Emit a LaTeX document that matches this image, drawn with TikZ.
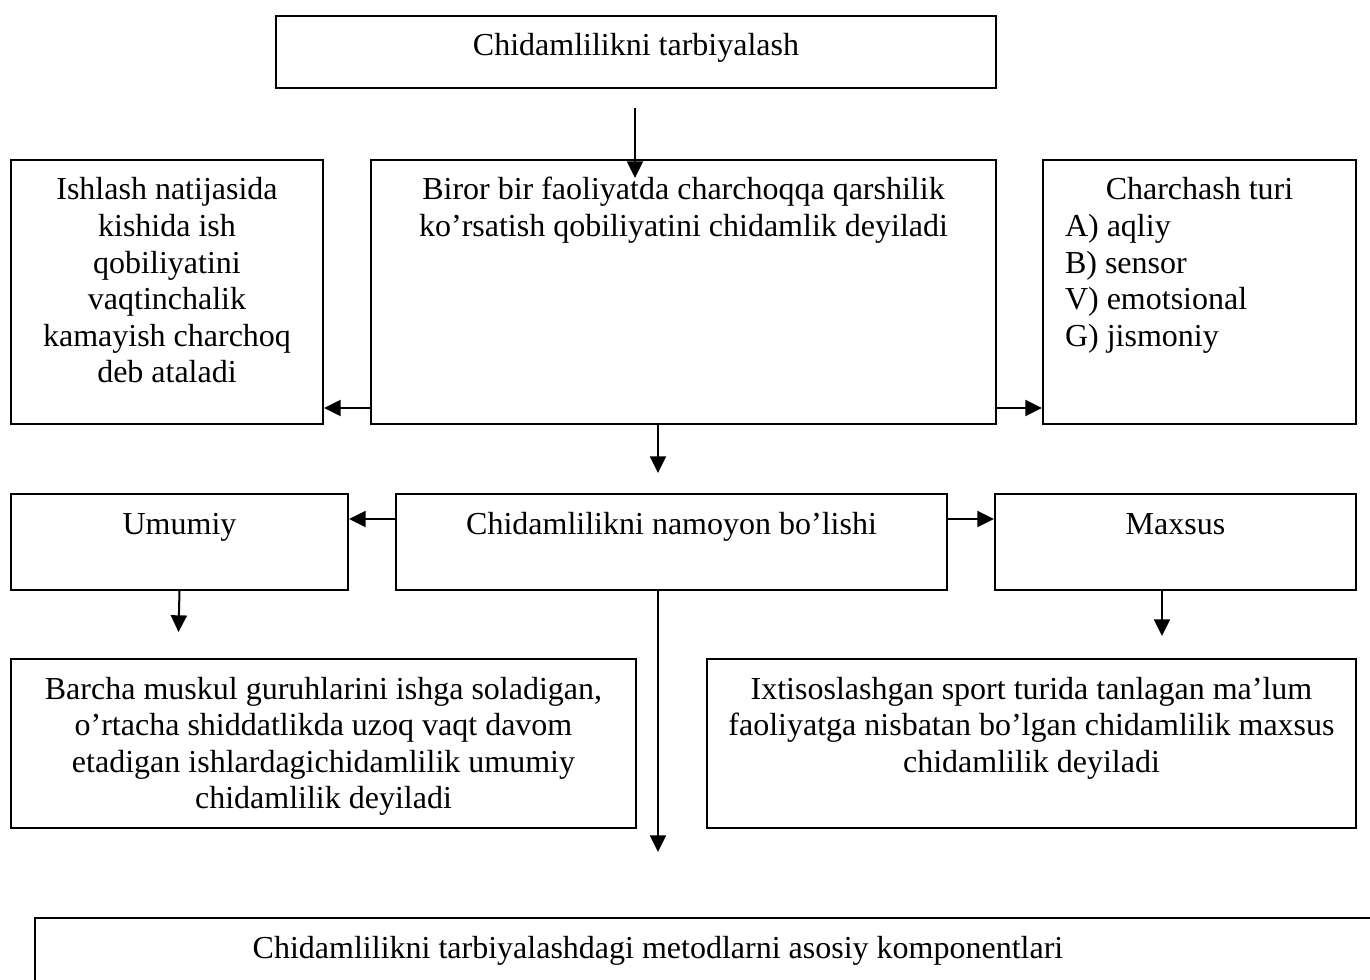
\documentclass[tikz,border=0pt]{standalone}
\usepackage{fontspec}
\setmainfont{Liberation Serif}
\usetikzlibrary{arrows.meta}
\newcommand\cellbody[3]{\parbox[c][#2][t]{#1}{\centering\rule{0pt}{30pt}#3}}
\begin{document}
\begin{tikzpicture}[x=0.75pt,y=-0.75pt,
  box/.style={draw, line width=1.5pt, inner sep=0pt, anchor=north west,
    font=\fontsize{24pt}{27.4pt}\selectfont},
  arr/.style={line width=1.5pt, -{Triangle[length=12.5pt,width=12pt]}}]
\useasboundingbox (0,0) rectangle (1370,980);
\clip (0,0) rectangle (1370,980);
% row 0
\node[box] (top) at (275,15) {\cellbody{540pt}{54pt}{Chidamlilikni tarbiyalash}};
% row 1
\node[box] (left) at (10,159) {\cellbody{234pt}{198pt}{Ishlash natijasida\\kishida ish\\qobiliyatini\\vaqtinchalik\\kamayish charchoq\\deb ataladi}};
\node[box] (mid) at (370,159) {\cellbody{468.75pt}{198pt}{Biror bir faoliyatda charchoqqa qarshilik\\ko’rsatish qobiliyatini chidamlik deyiladi}};
\node[box] (right) at (1042,159) {\parbox[c][198pt][t]{234.75pt}{\centering\rule{0pt}{30pt}Charchash turi\par
  \raggedright\leftskip=16.5pt A) aqliy\\B) sensor\\V) emotsional\\G) jismoniy}};
% row 2
\node[box] (umu) at (10,493) {\cellbody{252.75pt}{72pt}{Umumiy}};
\node[box] (nam) at (395,493) {\cellbody{413.25pt}{72pt}{Chidamlilikni namoyon bo’lishi}};
\node[box] (max) at (994,493) {\cellbody{270.75pt}{72pt}{Maxsus}};
% row 3
\node[box] (gen) at (10,658) {\cellbody{468.75pt}{126.75pt}{Barcha muskul guruhlarini ishga soladigan,\\o’rtacha shiddatlikda uzoq vaqt davom\\etadigan ishlardagichidamlilik umumiy\\chidamlilik deyiladi}};
\node[box] (spec) at (706,658) {\cellbody{486.75pt}{126.75pt}{Ixtisoslashgan sport turida tanlagan ma’lum\\faoliyatga nisbatan bo’lgan chidamlilik maxsus\\chidamlilik deyiladi}};
% bottom
\node[box] (bot) at (34,917) {\parbox[c][62.25pt][t]{1009.5pt}{\centering\rightskip=75pt plus 1fil\rule{0pt}{30pt}Chidamlilikni tarbiyalashdagi metodlarni asosiy komponentlari}};
% connector helper coordinates
\coordinate (a1s) at (635,108);
\coordinate (a1e) at (635,178);
\coordinate (r1) at (0,408);
\coordinate (a4x) at (658,0);
\coordinate (a4e) at (658,473);
\coordinate (r2) at (0,519);
\coordinate (a7e) at (178.5,632);
\coordinate (a8x) at (1162,0);
\coordinate (a8e) at (1162,636);
\coordinate (a9e) at (658,852);
% connectors
\draw[arr] (a1s) -- (a1e);
\draw[arr] (mid.west |- r1) -- (left.east |- r1);
\draw[arr] (mid.east |- r1) -- (right.west |- r1);
\draw[arr] (mid.south -| a4x) -- (a4e);
\draw[arr] (nam.west |- r2) -- (umu.east |- r2);
\draw[arr] (nam.east |- r2) -- (max.west |- r2);
\draw[arr] (umu.south) -- (a7e);
\draw[arr] (max.south -| a8x) -- (a8e);
\draw[arr] (nam.south -| a4x) -- (a9e);
\end{tikzpicture}
\end{document}
